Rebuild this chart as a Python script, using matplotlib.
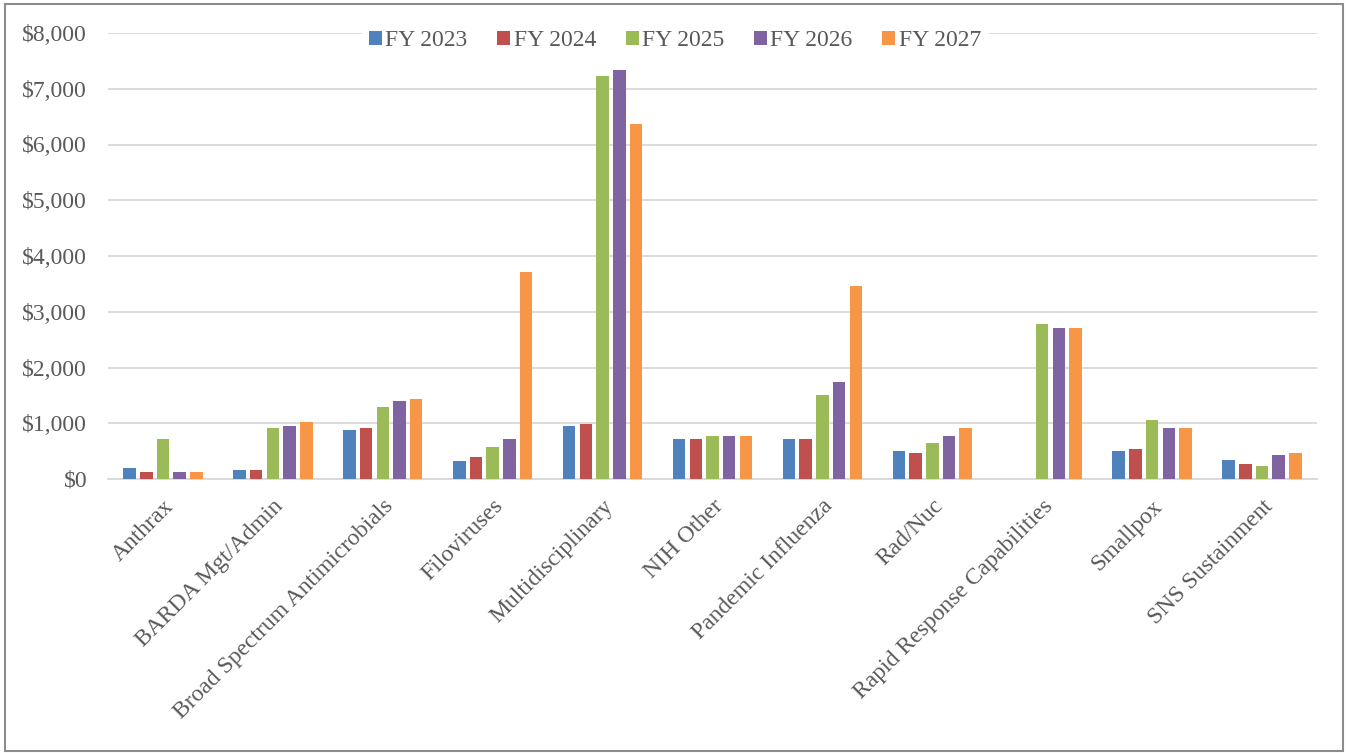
import numpy as np
import matplotlib
matplotlib.use('Agg')
import matplotlib.pyplot as plt
from matplotlib.patches import Rectangle
from matplotlib.ticker import FuncFormatter

categories = ['Anthrax', 'BARDA Mgt/Admin', 'Broad Spectrum Antimicrobials', 'Filoviruses',
              'Multidisciplinary', 'NIH Other', 'Pandemic Influenza', 'Rad/Nuc',
              'Rapid Response Capabilities', 'Smallpox', 'SNS Sustainment']
series_names = ['FY 2023', 'FY 2024', 'FY 2025', 'FY 2026', 'FY 2027']

fy2023 = [200, 160, 880, 317, 950, 725, 725, 495, 0, 495, 345]
fy2024 = [130, 160, 915, 390, 995, 725, 725, 460, 0, 530, 275]
fy2025 = [725, 915, 1290, 580, 7230, 765, 1505, 645, 2780, 1060, 235]
fy2026 = [125, 950, 1395, 725, 7340, 765, 1735, 765, 2700, 910, 425]
fy2027 = [125, 1020, 1435, 3715, 6370, 765, 3455, 910, 2700, 910, 460]

colors = ['#4F81BD', '#C0504D', '#9BBB59', '#8064A2', '#F79646']
text_color = '#595959'

plt.rcParams['font.family'] = ['Liberation Serif', 'DejaVu Serif']

fig = plt.figure(figsize=(13.47, 7.53), dpi=100)
ax = fig.add_axes([108 / 1347, 1 - 479 / 753, (1317 - 108) / 1347, (479 - 33) / 753])

x = np.arange(len(categories))
slot = 0.152
width = 0.114
all_series = [fy2023, fy2024, fy2025, fy2026, fy2027]
for i, (name, vals) in enumerate(zip(series_names, all_series)):
    ax.bar(x + (i - 2) * slot, vals, width=width, color=colors[i], label=name, zorder=3)

ax.set_xlim(-0.5, len(categories) - 0.5)
ax.set_ylim(0, 8000)
ax.set_yticks(range(0, 8001, 1000))
ax.yaxis.set_major_formatter(FuncFormatter(lambda v, p: f'${v:,.0f}'))
ax.grid(axis='y', color='#D9D9D9', linewidth=1.3, zorder=0)
for s in ['left', 'right', 'top']:
    ax.spines[s].set_visible(False)
ax.spines['bottom'].set_color('#D9D9D9')
ax.spines['bottom'].set_linewidth(1.3)
ax.tick_params(axis='y', length=0, pad=15, labelsize=17, labelcolor=text_color)
ax.tick_params(axis='x', length=0, pad=12, labelsize=17, labelcolor=text_color)
ax.set_xticks(x)
ax.set_xticklabels(categories, rotation=45, ha='right', rotation_mode='anchor')

fig.legend(loc='center', bbox_to_anchor=(0.501, 1 - 41 / 753), ncol=5, frameon=True,
           facecolor='white', edgecolor='white', framealpha=1, fancybox=False,
           fontsize=17, labelcolor=text_color, handlelength=0.55, handleheight=0.55,
           handletextpad=0.15, columnspacing=1.25, borderpad=0.3)

fig.patches.append(Rectangle((5 / 1347, 2 / 753), 1338 / 1347, 747 / 753, transform=fig.transFigure,
                             fill=False, edgecolor='#8C8C8C', linewidth=1.5))

fig.savefig('out.png', dpi=100)
